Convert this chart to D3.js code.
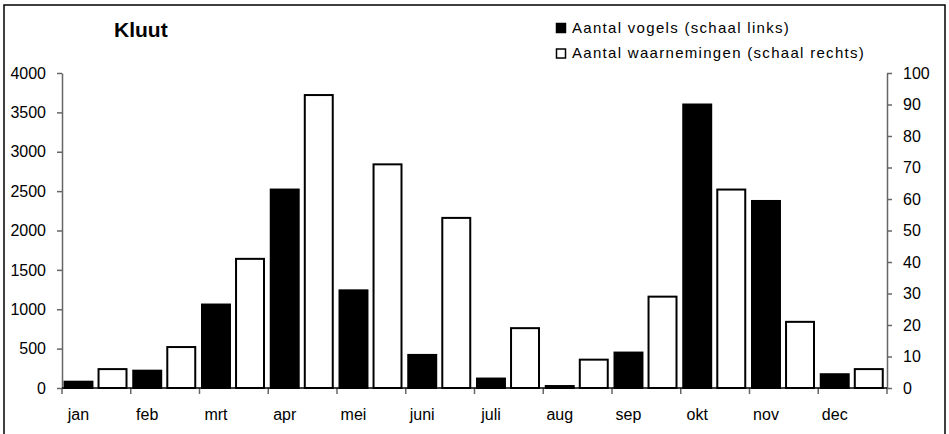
<!DOCTYPE html>
<html>
<head>
<meta charset="utf-8">
<script src="https://cdn.jsdelivr.net/npm/d3@7"></script>
<style>
  body { margin: 0; background: #fff; }
  text { font-family: "Liberation Sans", Arial, sans-serif; fill: #000; }
</style>
</head>
<body>
<div id="chart"></div>
<script>
var months = ["jan", "feb", "mrt", "apr", "mei", "juni", "juli", "aug", "sep", "okt", "nov", "dec"];
var vogels = [80, 220, 1060, 2520, 1240, 420, 120, 25, 450, 3600, 2375, 175];
var waarnemingen = [6, 13, 41, 93, 71, 54, 19, 9, 29, 63, 21, 6];
var leftTicks = [0, 500, 1000, 1500, 2000, 2500, 3000, 3500, 4000];
var rightTicks = [0, 10, 20, 30, 40, 50, 60, 70, 80, 90, 100];
var seriesNames = ["Aantal vogels (schaal links)", "Aantal waarnemingen (schaal rechts)"];

var svgWidth = 949;
var svgHeight = 434;

var margin = { top: 73, right: 62, bottom: 46, left: 62 };
var x0 = margin.left;
var x1 = svgWidth - margin.right;
var yBase = svgHeight - margin.bottom;

var svg = d3.select("#chart")
  .append("svg")
  .attr("width", svgWidth)
  .attr("height", svgHeight);

// frame round the chart
svg.append("rect")
  .attr("x", 4)
  .attr("y", 5)
  .attr("width", 941)
  .attr("height", 440)
  .attr("fill", "none")
  .attr("stroke", "#000")
  .attr("stroke-width", 1.5);

var xScale = d3.scaleBand()
  .domain(months)
  .range([x0, x1])
  .padding(0);

var subScale = d3.scaleBand()
  .domain([0, 1])
  .range([1.5, 65.5])
  .paddingInner(0.12);

var yLeft = d3.scaleLinear().domain([0, 4000]).range([yBase, margin.top]);
var yRight = d3.scaleLinear().domain([0, 100]).range([yBase, margin.top]);

// bars
var bars = svg.append("g");

bars.selectAll(".vogels")
  .data(vogels)
  .enter()
  .append("rect")
  .attr("class", "vogels")
  .attr("x", (d, i) => xScale(months[i]) + subScale(0) + 1)
  .attr("y", d => yLeft(d))
  .attr("width", subScale.bandwidth() - 2)
  .attr("height", d => yBase - yLeft(d))
  .attr("fill", "#000")
  .attr("stroke", "#000")
  .attr("stroke-width", 2);

bars.selectAll(".waarn")
  .data(waarnemingen)
  .enter()
  .append("rect")
  .attr("class", "waarn")
  .attr("x", (d, i) => xScale(months[i]) + subScale(1) + 1)
  .attr("y", d => yRight(d))
  .attr("width", subScale.bandwidth() - 2)
  .attr("height", d => yBase - yRight(d))
  .attr("fill", "#fff")
  .attr("stroke", "#000")
  .attr("stroke-width", 2);

// left axis
var leftAxis = d3.axisLeft(yLeft)
  .tickValues(leftTicks)
  .tickFormat(d3.format("d"))
  .tickSizeInner(5)
  .tickSizeOuter(0)
  .tickPadding(11);

var gLeft = svg.append("g")
  .attr("transform", `translate(${x0}, 0)`)
  .call(leftAxis);

// right axis
var rightAxis = d3.axisRight(yRight)
  .tickValues(rightTicks)
  .tickFormat(d3.format("d"))
  .tickSizeInner(5)
  .tickSizeOuter(0)
  .tickPadding(11);

var gRight = svg.append("g")
  .attr("transform", `translate(${x1}, 0)`)
  .call(rightAxis);

[gLeft, gRight].forEach(function(g) {
  g.select(".domain").attr("stroke", "#666").attr("stroke-width", 1.5);
  g.selectAll(".tick line").attr("stroke", "#666").attr("stroke-width", 1.5);
  g.selectAll(".tick text")
    .attr("font-size", "16px")
    .attr("font-family", "Liberation Sans, Arial, sans-serif")
    .attr("fill", "#000");
});

// x axis: ticks between months, labels under the black bars
var bounds = months.map(m => xScale(m)).concat([x1]);
var gX = svg.append("g");

gX.selectAll("line.tick")
  .data(bounds)
  .enter()
  .append("line")
  .attr("class", "tick")
  .attr("x1", d => d)
  .attr("x2", d => d)
  .attr("y1", yBase)
  .attr("y2", yBase + 6)
  .attr("stroke", "#666")
  .attr("stroke-width", 1.5);

gX.append("line")
  .attr("x1", x0)
  .attr("x2", x1)
  .attr("y1", yBase)
  .attr("y2", yBase)
  .attr("stroke", "#000")
  .attr("stroke-width", 1.5);

gX.selectAll("text")
  .data(months)
  .enter()
  .append("text")
  .attr("x", d => xScale(d) + subScale(0) + subScale.bandwidth() / 2)
  .attr("y", yBase + 32)
  .attr("text-anchor", "middle")
  .attr("font-size", "16px")
  .text(d => d);

// title
svg.append("text")
  .attr("x", 114)
  .attr("y", 37)
  .attr("font-size", "21px")
  .attr("font-weight", "bold")
  .text("Kluut");

// legend
var legend = svg.append("g").attr("transform", "translate(556, 23)");

legend.selectAll("rect")
  .data(seriesNames)
  .enter()
  .append("rect")
  .attr("x", 0.5)
  .attr("y", (d, i) => i * 25.5 + 0.5)
  .attr("width", 9)
  .attr("height", 9)
  .attr("fill", (d, i) => i === 0 ? "#000" : "#fff")
  .attr("stroke", "#000")
  .attr("stroke-width", 1.5);

legend.selectAll("text")
  .data(seriesNames)
  .enter()
  .append("text")
  .attr("x", 16)
  .attr("y", (d, i) => 9.5 + i * 25.5)
  .attr("font-size", "15px")
  .attr("letter-spacing", "1.3px")
  .text(d => d);
</script>
</body>
</html>
